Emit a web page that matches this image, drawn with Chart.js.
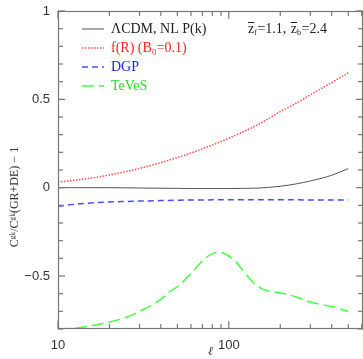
<!DOCTYPE html>
<html><head><meta charset="utf-8">
<script src="https://cdn.jsdelivr.net/npm/chart.js@4/dist/chart.umd.min.js"></script>
<style>html,body{margin:0;padding:0;background:#fff}#wrap{width:363px;height:359px;position:relative}</style>
</head><body><div id="wrap"><canvas id="c" width="363" height="359"></canvas></div>
<script>
const seriesNames = ["\u039BCDM, NL P(k)", "f(R) (B\u2080=0.1)", "DGP", "TeVeS"];
const ellGrid = [10,12,15,20,25,30,40,50,60,70,80,90,100,120,150,200,250,300,400,500];
const lcdm = [0,0,0,0,-0.001,-0.002,-0.003,-0.004,-0.005,-0.005,-0.005,-0.005,-0.005,-0.004,-0.002,0.008,0.022,0.038,0.07,0.108];
const fR   = [0.032,0.040,0.052,0.072,0.091,0.109,0.142,0.171,0.196,0.220,0.241,0.261,0.280,0.314,0.360,0.430,0.480,0.525,0.595,0.650];
const dgp  = [-0.105,-0.096,-0.088,-0.081,-0.078,-0.076,-0.073,-0.071,-0.07,-0.07,-0.069,-0.069,-0.069,-0.069,-0.069,-0.069,-0.069,-0.07,-0.07,-0.07];
const ellTeVeS = [10,13,16,20,25,30,39,45,51,61,72,80,86,92,99,110,119,130,142,155,166,185,212,250,304,350,400,500];
const teves = [-0.80,-0.794,-0.78,-0.76,-0.735,-0.70,-0.64,-0.59,-0.554,-0.478,-0.403,-0.373,-0.365,-0.37,-0.384,-0.42,-0.46,-0.505,-0.545,-0.57,-0.582,-0.59,-0.60,-0.62,-0.649,-0.662,-0.673,-0.70];
const xTickLabels = {10:"10", 100:"100"};
const yTickLabels = {"1":"1","0.5":"0.5","0":"0","-0.5":"\u22120.5"};
const yTitle = "C\u1D4D\u1D4F/C\u1D4D\u1D4F(GR+DE) \u2212 1";
const xTitle = "\u2113";
const xMinorTicks = [10,20,30,40,50,60,70,80,90,100,200,300,400,500,600];
const yMinorTicks = [-0.8,-0.7,-0.6,-0.5,-0.4,-0.3,-0.2,-0.1,0,0.1,0.2,0.3,0.4,0.5,0.6,0.7,0.8,0.9,1];

const pts = (xs, ys) => xs.map((x,i)=>({x:x,y:ys[i]}));
const textColors = ["#222222","#ff2020","#2020ff","#22e022"];

const ds = [
  {label:seriesNames[0], data:pts(ellGrid,lcdm), borderColor:"#555555", borderWidth:1, borderDash:[]},
  {label:seriesNames[1], data:pts(ellGrid,fR), borderColor:"#ff4a4a", borderWidth:1.5, borderDash:[1.5,1.5]},
  {label:seriesNames[2], data:pts(ellGrid,dgp), borderColor:"#4a4aff", borderWidth:1.5, borderDash:[6,4]},
  {label:seriesNames[3], data:pts(ellTeVeS,teves), borderColor:"#44ff44", borderWidth:1.5, borderDash:[12,5]}
].map(d=>Object.assign(d,{showLine:true,pointRadius:0,fill:false,cubicInterpolationMode:'monotone'}));

const frame = {
  id:'frame',
  afterDraw(chart){
    const ctx = chart.ctx, a = chart.chartArea, x = chart.scales.x, y = chart.scales.y;
    ctx.save();
    ctx.setLineDash([]);
    ctx.strokeStyle="#777"; ctx.lineWidth=1.2;
    ctx.strokeRect(a.left+0.5,a.top+0.5,a.right-a.left-1,a.bottom-a.top-1);
    ctx.fillStyle="#777";
    for(const v of yMinorTicks){
      const py=y.getPixelForValue(v);
      const major=Math.abs(v*2-Math.round(v*2))<1e-6;
      const L=major?7:5;
      ctx.fillRect(a.left,py-0.6,L,1.2);
      ctx.fillRect(a.right-L,py-0.6,L,1.2);
    }
    for(const v of xMinorTicks){
      const px=x.getPixelForValue(v);
      const L=(v===10||v===100)?8:5;
      ctx.fillRect(px-0.6,a.bottom-L,1.2,L);
      ctx.fillRect(px-0.6,a.top,1.2,L);
    }
    // legend
    ctx.font="14px 'Liberation Serif', serif";
    ctx.textBaseline="middle";
    chart.data.datasets.forEach((d,i)=>{
      const yy=a.top+18+i*19;
      ctx.strokeStyle=d.borderColor; ctx.lineWidth=d.borderWidth;
      ctx.setLineDash(d.borderDash);
      ctx.beginPath();ctx.moveTo(a.left+24,yy);ctx.lineTo(a.left+46,yy);ctx.stroke();
      ctx.setLineDash([]);
      ctx.fillStyle=textColors[i];
      ctx.fillText(d.label,a.left+53,yy);
    });
    // redshift annotation
    let xx=a.left+190, yy=a.top+18;
    ctx.fillStyle="#222";
    const seg=(t,sub)=>{
      ctx.font="14px 'Liberation Serif', serif";
      const w=ctx.measureText("z").width;
      ctx.fillText("z",xx,yy);
      ctx.lineWidth=1; ctx.strokeStyle="#222";
      ctx.beginPath();ctx.moveTo(xx,yy-6.5);ctx.lineTo(xx+w,yy-6.5);ctx.stroke();
      xx+=w;
      ctx.font="8px 'Liberation Serif', serif";
      ctx.fillText(sub,xx,yy+4);
      xx+=ctx.measureText(sub).width+0.5;
      ctx.font="14px 'Liberation Serif', serif";
      ctx.fillText(t,xx,yy);
      xx+=ctx.measureText(t).width;
    };
    seg("=1.1, ","f");
    xx+=1;
    seg("=2.4","b");
    // y title
    ctx.save();
    ctx.translate(15, a.top+(a.bottom-a.top)*0.585);
    ctx.rotate(-Math.PI/2);
    ctx.textAlign="center";
    ctx.font="12px 'Liberation Serif', serif";
    ctx.fillStyle="#333";
    ctx.fillText(yTitle,0,0);
    ctx.restore();
    ctx.restore();
  }
};

new Chart(document.getElementById('c'),{
  type:'scatter',
  data:{datasets:ds},
  plugins:[frame],
  options:{
    responsive:false, animation:false, events:[],
    layout:{padding:{top:11,right:0,left:0,bottom:0}},
    plugins:{legend:{display:false},tooltip:{enabled:false}},
    scales:{
      x:{type:'logarithmic',min:10,max:610,
        grid:{display:false,drawTicks:false},border:{display:false},
        afterBuildTicks(s){s.ticks=[10,100].map(v=>({value:v}));},
        afterFit(s){s.height=30;s.paddingLeft=0;s.paddingRight=0;},
        ticks:{autoSkip:false,maxRotation:0,padding:9,color:"#333",font:{family:"'Liberation Sans', sans-serif",size:13},
          callback:(v)=>xTickLabels[v]||""},
        title:{display:true,text:xTitle,padding:{top:-4,bottom:0},color:"#333",font:{family:"'Liberation Serif', serif",size:12,style:'italic'}}
      },
      y:{min:-0.8,max:1,
        grid:{display:false,drawTicks:false},border:{display:false},
        afterBuildTicks(s){s.ticks=[1,0.5,0,-0.5].map(v=>({value:v}));},
        afterFit(s){s.width=58;s.paddingTop=0;s.paddingBottom=0;},
        ticks:{autoSkip:false,padding:8,color:"#333",font:{family:"'Liberation Sans', sans-serif",size:13},
          callback:(v)=>yTickLabels[String(Math.round(v*10)/10)]||""}
      }
    }
  }
});
</script></body></html>
